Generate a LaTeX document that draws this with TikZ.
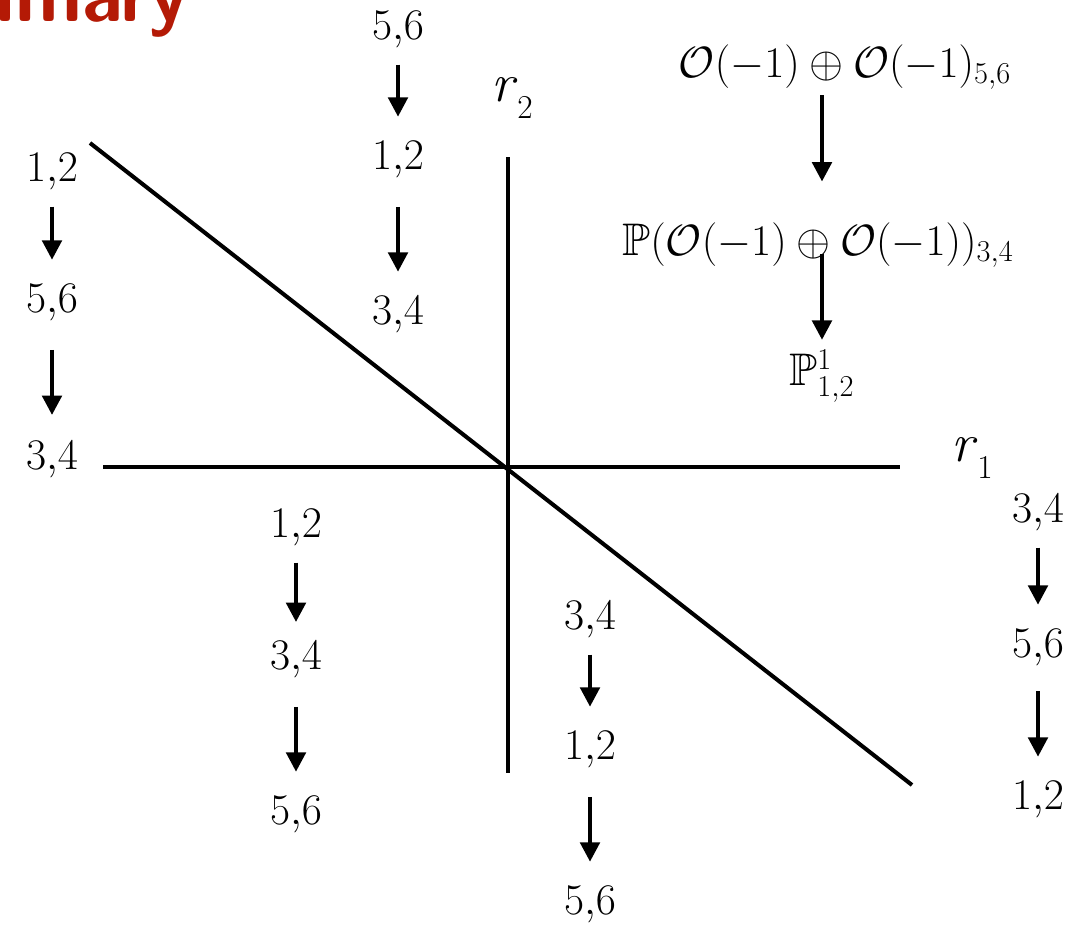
\documentclass[tikz,border=0pt]{standalone}
\usepackage{amsmath,amssymb}
\usetikzlibrary{arrows.meta}
\definecolor{headred}{RGB}{180,26,6}
\tikzset{
  lbl/.style={font=\fontsize{26}{30}\selectfont, inner sep=4pt},
  axis/.style={line width=2.3pt},
  darr/.style={line width=2.3pt, -{Triangle[width=11pt,length=11pt]}, shorten <=5pt, shorten >=10pt},
  darrb/.style={darr, shorten <=12pt, shorten >=11pt},
}
\newcommand{\pr}[2]{$#1{,}#2$}
\newcommand{\rlab}[1]{\textit{r}\raisebox{-0.32em}{\fontsize{19}{20}\selectfont #1}}
\begin{document}
\begin{tikzpicture}[x=0.02cm,y=-0.02cm]
\useasboundingbox (0,0) rectangle (1069,931);
\clip (0,0) rectangle (1069,931);
% heading (cropped)
\node[anchor=base west, text=headred, font=\sffamily\bfseries\fontsize{44}{50}\selectfont, inner sep=0pt] (head) at (-5,21) {imary};
% axes
\coordinate (h1) at (103,467);
\coordinate (h2) at (900,467);
\coordinate (v1) at (508,157);
\coordinate (v2) at (508,773);
\coordinate (d1) at (90,143);
\coordinate (d2) at (912,785);
\draw[axis] (h1) -- (h2);
\draw[axis] (v1) -- (v2);
\draw[axis] (d1) -- (d2);
\node[lbl, font=\rmfamily\fontsize{31}{34}\selectfont] (r1) at (972,458) {\rlab{1}};
\node[lbl, font=\rmfamily\fontsize{31}{34}\selectfont] (r2) at (512,98) {\rlab{2}};
% left column
\node[lbl] (a1) at (52,172) {\pr12};
\node[lbl] (a2) at (52,303) {\pr56};
\node[lbl] (a3) at (52,460) {\pr34};
\draw[darr] (a1) -- (a2);
\draw[darrb] (a2) -- (a3);
% top middle column
\node[lbl] (b1) at (398,30) {\pr56};
\node[lbl] (b2) at (398,160) {\pr12};
\node[lbl] (b3) at (398,315) {\pr34};
\draw[darr] (b1) -- (b2);
\draw[darr, shorten <=12pt, shorten >=10pt] (b2) -- (b3);
% bottom left column
\node[lbl] (c1) at (296,528) {\pr12};
\node[lbl] (c2) at (296,660) {\pr34};
\node[lbl] (c3) at (296,815) {\pr56};
\draw[darr, shorten >=7pt] (c1) -- (c2);
\draw[darrb, shorten >=10pt] (c2) -- (c3);
% bottom middle column
\node[lbl] (e1) at (590,620) {\pr34};
\node[lbl] (e2) at (590,750) {\pr12};
\node[lbl] (e3) at (590,905) {\pr56};
\draw[darr] (e1) -- (e2);
\draw[darrb, shorten >=10pt] (e2) -- (e3);
% right column
\node[lbl] (f1) at (1038,513) {\pr34};
\node[lbl] (f2) at (1038,648) {\pr56};
\node[lbl] (f3) at (1038,800) {\pr12};
\draw[darr] (f1) -- (f2);
\draw[darr, shorten <=10pt, shorten >=10pt] (f2) -- (f3);
% top right tower
\node[lbl, anchor=base] (g1) at (845,77) {$\mathcal{O}(-1)\oplus\mathcal{O}(-1)_{5,6}$};
\node[lbl, anchor=base] (g2) at (818,255) {$\mathbb{P}(\mathcal{O}(-1)\oplus\mathcal{O}(-1))_{3,4}$};
\node[lbl] (g3) at (822,376) {$\mathbb{P}^{1}_{1,2}$};
\draw[darr, shorten <=-1pt, shorten >=19pt] (g1.south -| 822,0) -- (g2.north -| 822,0);
\draw[darr, shorten <=-12pt, shorten >=1.5pt] (g2.south -| 822,0) -- (g3.north -| 822,0);
\end{tikzpicture}
\end{document}
